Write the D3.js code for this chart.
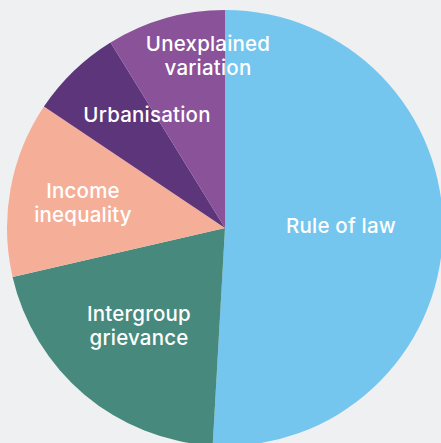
<!DOCTYPE html>
<meta charset="utf-8" />
<style>
  html, body {
    margin: 0;
    padding: 0;
    background: #eff0f2;
  }
  svg {
    display: block;
  }
</style>

<body>
  <div id="pieContainer"></div>
  <script src="https://cdn.jsdelivr.net/npm/d3@7"></script>
  <script>
    // share of explained variation, in clockwise order from 12 o'clock
    let categories = ["Rule of law", "Intergroup grievance", "Income inequality", "Urbanisation", "Unexplained variation"];
    let values = [50.9, 20.5, 13.0, 6.8, 8.8];
    let labelLines = [["Rule of law"], ["Intergroup", "grievance"], ["Income", "inequality"], ["Urbanisation"], ["Unexplained", "variation"]];
    let colors = ["#74c6ef", "#478a7d", "#f5af98", "#5c357b", "#8a5299"];

    // label anchors, offset from the pie centre (first baseline)
    let labelOffsets = [
      [116, 5],
      [-86, 93],
      [-142, -30],
      [-78, -106],
      [-17, -177],
    ];

    var width = 441;
    var height = 443;
    var cx = 225;
    var cy = 228;
    var radius = 218;
    var lineHeight = 23.5;

    let rows = categories.map((c, i) => ({ name: c, value: values[i], lines: labelLines[i], color: colors[i], off: labelOffsets[i] }));

    let pie = d3.pie().sort(null).value((d) => d.value);
    let arc = d3.arc().innerRadius(0).outerRadius(radius);

    let svg = d3.select("#pieContainer").append("svg").attr("width", width).attr("height", height);

    let g = svg.append("g").attr("transform", "translate(" + cx + "," + cy + ")");

    g.selectAll("path")
      .data(pie(rows))
      .enter()
      .append("path")
      .attr("d", arc)
      .attr("fill", (d) => d.data.color);

    let labels = g
      .selectAll("text")
      .data(rows)
      .enter()
      .append("text")
      .attr("text-anchor", "middle")
      .attr("fill", "white")
      .attr("font-family", "Inter, sans-serif")
      .attr("font-size", "20.5px")
      .attr("font-weight", 500)
      .attr("letter-spacing", "0.2px");

    labels
      .selectAll("tspan")
      .data((d) => d.lines.map((t, j) => ({ t: t, j: j, off: d.off })))
      .enter()
      .append("tspan")
      .attr("x", (d) => d.off[0])
      .attr("y", (d) => d.off[1] + d.j * lineHeight)
      .text((d) => d.t);
  </script>
</body>
